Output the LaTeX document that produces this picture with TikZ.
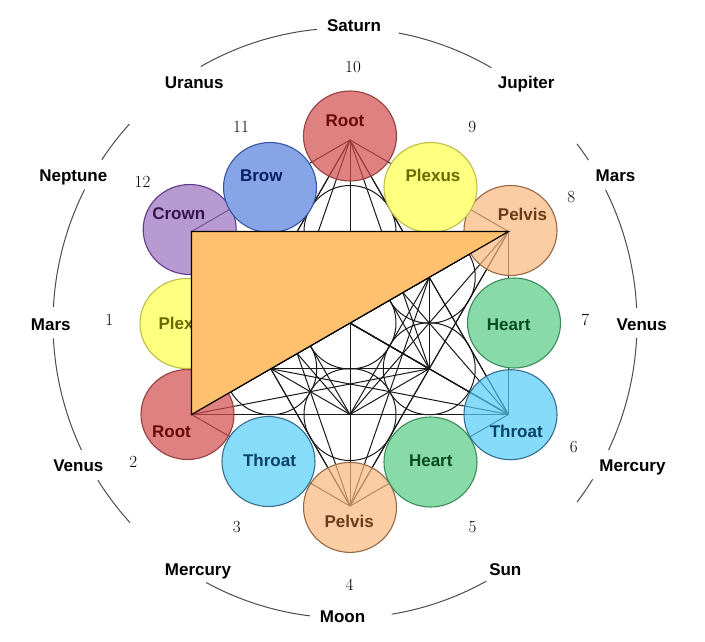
\documentclass[tikz,border=0pt]{standalone}
\usepackage{fontspec}
\newfontfamily\labfont{Liberation Sans}
\usetikzlibrary{calc}
\definecolor{rootF}{RGB}{212,76,76}
\definecolor{rootD}{RGB}{150,65,65}
\definecolor{rootT}{RGB}{100,10,10}
\definecolor{pelF}{RGB}{248,184,126}
\definecolor{pelD}{RGB}{150,105,70}
\definecolor{pelT}{RGB}{105,60,25}
\definecolor{thrF}{RGB}{84,205,248}
\definecolor{thrO}{RGB}{135,220,250}
\definecolor{thrD}{RGB}{55,110,140}
\definecolor{thrT}{RGB}{10,65,100}
\definecolor{crF}{RGB}{155,112,191}
\definecolor{crD}{RGB}{95,60,135}
\definecolor{crT}{RGB}{55,20,75}
\definecolor{brF}{RGB}{135,165,230}
\definecolor{brD}{RGB}{55,85,165}
\definecolor{brT}{RGB}{10,30,100}
\definecolor{plF}{RGB}{255,255,128}
\definecolor{plD}{RGB}{190,190,70}
\definecolor{plT}{RGB}{105,105,0}
\definecolor{heF}{RGB}{136,218,168}
\definecolor{heD}{RGB}{60,140,90}
\definecolor{heT}{RGB}{10,75,30}
\definecolor{triF}{RGB}{255,193,110}
\tikzset{
  cube/.style={draw=black!90, line width=1pt},
  vtx/.style={fill opacity=0.7, line width=1.1pt},
  mid/.style={line width=1.1pt},
  lab/.style={font=\labfont\bfseries\fontsize{17}{20}\selectfont, anchor=base, inner sep=0pt},
  num/.style={font=\fontsize{17}{20}\selectfont, anchor=base, inner sep=0pt},
  ring/.style={draw=black!70, line width=1pt},
}
\begin{document}
\begin{tikzpicture}[x=1pt,y=-1pt]
\useasboundingbox (0,0) rectangle (705,642);
\fill[white] (0,0) rectangle (705,642);
% Metatron points
\coordinate (c) at (350,323);
\foreach \n/\a in {1/90,2/30,3/-30,4/-90,5/-150,6/150} {
  \coordinate (i\n) at ($(c)+(-\a:91.5)$);
  \coordinate (o\n) at ($(c)+(-\a:183)$);
}
% all lines between the 13 centres
\foreach \p [count=\i] in {c,i1,i2,i3,i4,i5,i6,o1,o2,o3,o4,o5,o6} {
  \foreach \q [count=\j] in {c,i1,i2,i3,i4,i5,i6,o1,o2,o3,o4,o5,o6} {
    \ifnum\j>\i \draw[cube] (\p) -- (\q); \fi
  }
}
% inner 7 circles
\foreach \p in {c,i1,i2,i3,i4,i5,i6}
  \draw[cube] (\p) circle[radius=46];
% vertex chakra circles (translucent)
\path[vtx, fill=rootF, draw=rootD] (350,136) ellipse[x radius=46.5, y radius=45];
\path[vtx, fill=pelF, draw=pelD] (510.5,230.5) ellipse[x radius=46.5, y radius=45];
\path[vtx, fill=thrF, draw=thrD] (510.5,414.7) ellipse[x radius=46.5, y radius=45];
\path[vtx, fill=pelF, draw=pelD] (350,507.4) ellipse[x radius=46.5, y radius=45];
\path[vtx, fill=rootF, draw=rootD] (187.5,414.5) ellipse[x radius=46.5, y radius=45];
\path[vtx, fill=crF, draw=crD] (189.7,229.5) ellipse[x radius=46.5, y radius=45];
% mid chakra circles (opaque)
\path[mid, fill=plF, draw=plD] (430.5,187.5) ellipse[x radius=46.5, y radius=45];
\path[mid, fill=heF, draw=heD] (514,323) ellipse[x radius=46.5, y radius=45];
\path[mid, fill=heF, draw=heD] (430.5,462) ellipse[x radius=46.5, y radius=45];
\path[mid, fill=thrO, draw=thrD] (268.5,461.5) ellipse[x radius=46.5, y radius=45];
\path[mid, fill=plF, draw=plD] (186.5,323.5) ellipse[x radius=46.5, y radius=45];
\path[mid, fill=brF, draw=brD] (270,187.5) ellipse[x radius=46.5, y radius=45];
% chakra labels
\node[lab, text=rootT] (lroot1) at (345,126.7) {Root};
\node[lab, text=plT] (lplex1) at (433,182) {Plexus};
\node[lab, text=pelT] (lpel1) at (522.5,220) {Pelvis};
\node[lab, text=heT] (lheart1) at (508.7,330) {Heart};
\node[lab, text=thrT] (lthr1) at (516.3,437.3) {Throat};
\node[lab, text=heT] (lheart2) at (430.8,466) {Heart};
\node[lab, text=pelT] (lpel2) at (349.2,527.3) {Pelvis};
\node[lab, text=thrT] (lthr2) at (269.5,466.7) {Throat};
\node[lab, text=rootT] (lroot2) at (171.5,437.3) {Root};
\node[lab, text=plT] (lplex2) at (186,329) {Plexus};
\node[lab, text=crT] (lcrown) at (178.8,219.3) {Crown};
\node[lab, text=brT] (lbrow) at (261.3,181.7) {Brow};
% orange triangle
\filldraw[fill=triF, draw=black, line width=1.1pt] (o6) -- (o2) -- (o5) -- cycle;
% outer ring
\coordinate (ringc) at (345,323);
\foreach \s/\e in {59.9/79.4, 95.5/119.6, 137.6/146.4, 153.1/176.9, 183.0/205.5, 212.2/222.6, 241.6/263.1, 279.2/298.9, 322.6/328.0, 334.5/357.1, 2.9/26.8, 33.5/37.4}
  \draw[ring] ($(ringc)+(-\s:292 and 295)$) arc[start angle=-\s, end angle=-\e, x radius=292, y radius=295];
% planets
\node[lab] (saturn) at (354,31.7) {Saturn};
\node[lab] (uranus) at (194.2,88.3) {Uranus};
\node[lab] (jupiter) at (526.2,88.3) {Jupiter};
\node[lab] (neptune) at (73.3,181) {Neptune};
\node[lab] (marsl) at (50.8,330) {Mars};
\node[lab] (venusl) at (78.3,471) {Venus};
\node[lab] (mercuryl) at (198,575) {Mercury};
\node[lab] (moon) at (342.5,622.7) {Moon};
\node[lab] (sun) at (505.3,575) {Sun};
\node[lab] (mercuryr) at (632.5,471.7) {Mercury};
\node[lab] (venusr) at (641.7,330) {Venus};
\node[lab] (marsr) at (615.5,181.7) {Mars};
% house numbers
\node[num] (n10) at (353,72.3) {10};
\node[num] (n11) at (241,132.3) {11};
\node[num] (n9) at (472.3,132.3) {9};
\node[num] (n12) at (142.5,187.3) {12};
\node[num] (n1) at (109.3,325.7) {1};
\node[num] (n2) at (133.3,467.3) {2};
\node[num] (n3) at (236.7,532.3) {3};
\node[num] (n4) at (349.5,590.7) {4};
\node[num] (n5) at (472.5,532.3) {5};
\node[num] (n6) at (573.7,452.7) {6};
\node[num] (n7) at (585.3,325.7) {7};
\node[num] (n8) at (571.2,202.3) {8};
\end{tikzpicture}
\end{document}
